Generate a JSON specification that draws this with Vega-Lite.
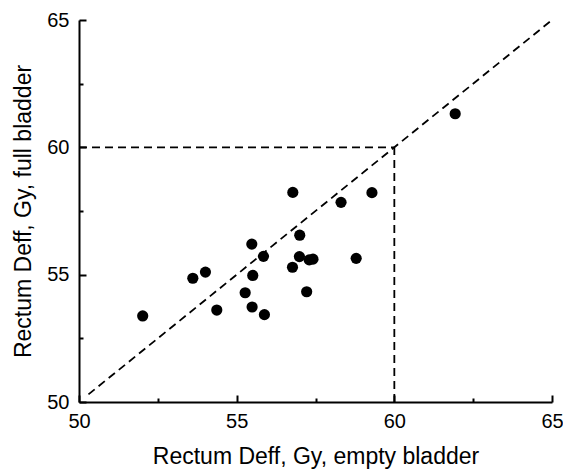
{
  "$schema": "https://vega.github.io/schema/vega-lite/v6.json",
  "autosize": "none",
  "width": 473,
  "height": 382,
  "padding": {"left": 79, "top": 20, "right": 11, "bottom": 68},
  "background": "white",
  "config": {
    "view": {"stroke": null},
    "font": "Liberation Sans",
    "axis": {
      "domainColor": "black",
      "domainWidth": 2,
      "tickColor": "black",
      "tickWidth": 2,
      "labelColor": "black",
      "titleColor": "black",
      "labelFont": "Liberation Sans",
      "titleFont": "Liberation Sans",
      "labelFontSize": 20,
      "titleFontSize": 23,
      "titleFontWeight": "normal",
      "grid": false
    }
  },
  "datasets": {
    "points": [
      {"empty": 52.02, "full": 53.38},
      {"empty": 53.61, "full": 54.86},
      {"empty": 54.01, "full": 55.10},
      {"empty": 54.37, "full": 53.61},
      {"empty": 55.27, "full": 54.29},
      {"empty": 55.48, "full": 56.20},
      {"empty": 55.51, "full": 54.97},
      {"empty": 55.49, "full": 53.73},
      {"empty": 55.85, "full": 55.72},
      {"empty": 55.88, "full": 53.43},
      {"empty": 56.78, "full": 58.23},
      {"empty": 56.77, "full": 55.29},
      {"empty": 57.00, "full": 56.55},
      {"empty": 56.99, "full": 55.71},
      {"empty": 57.22, "full": 54.33},
      {"empty": 57.30, "full": 55.58},
      {"empty": 57.42, "full": 55.61},
      {"empty": 58.31, "full": 57.84},
      {"empty": 58.79, "full": 55.64},
      {"empty": 59.29, "full": 58.22},
      {"empty": 61.93, "full": 61.32}
    ],
    "lines": [
      {"x1": 50.3, "y1": 50.3, "x2": 65, "y2": 65},
      {"x1": 50, "y1": 60, "x2": 60, "y2": 60},
      {"x1": 60, "y1": 50, "x2": 60, "y2": 60}
    ]
  },
  "layer": [
    {
      "data": {"name": "lines"},
      "mark": {"type": "rule", "color": "black", "strokeWidth": 1.8, "strokeDash": [8, 5]},
      "encoding": {
        "x": {
          "field": "x1", "type": "quantitative",
          "scale": {"domain": [50, 65], "nice": false, "zero": false},
          "axis": {
            "title": "Rectum Deff, Gy, empty bladder",
            "values": [50, 52.5, 55, 57.5, 60, 62.5, 65],
            "labelExpr": "datum.value % 5 === 0 ? format(datum.value, 'd') : ''",
            "tickSize": {"expr": "datum.value % 5 === 0 ? -7 : -4"},
            "labelPadding": 16.5,
            "labelFlush": false,
            "titleY": 61,
            "titleBaseline": "alphabetic"
          }
        },
        "y": {
          "field": "y1", "type": "quantitative",
          "scale": {"domain": [50, 65], "nice": false, "zero": false},
          "axis": {
            "title": "Rectum Deff, Gy, full bladder",
            "values": [50, 52.5, 55, 57.5, 60, 62.5, 65],
            "labelExpr": "datum.value % 5 === 0 ? format(datum.value, 'd') : ''",
            "tickSize": {"expr": "datum.value % 5 === 0 ? -7 : -4"},
            "labelPadding": 17,
            "labelFlush": false,
            "titleX": -49,
            "titleBaseline": "alphabetic"
          }
        },
        "x2": {"field": "x2"},
        "y2": {"field": "y2"}
      }
    },
    {
      "data": {"name": "points"},
      "mark": {"type": "circle", "color": "black", "opacity": 1, "size": 125},
      "encoding": {
        "x": {"field": "empty", "type": "quantitative"},
        "y": {"field": "full", "type": "quantitative"}
      }
    }
  ]
}
